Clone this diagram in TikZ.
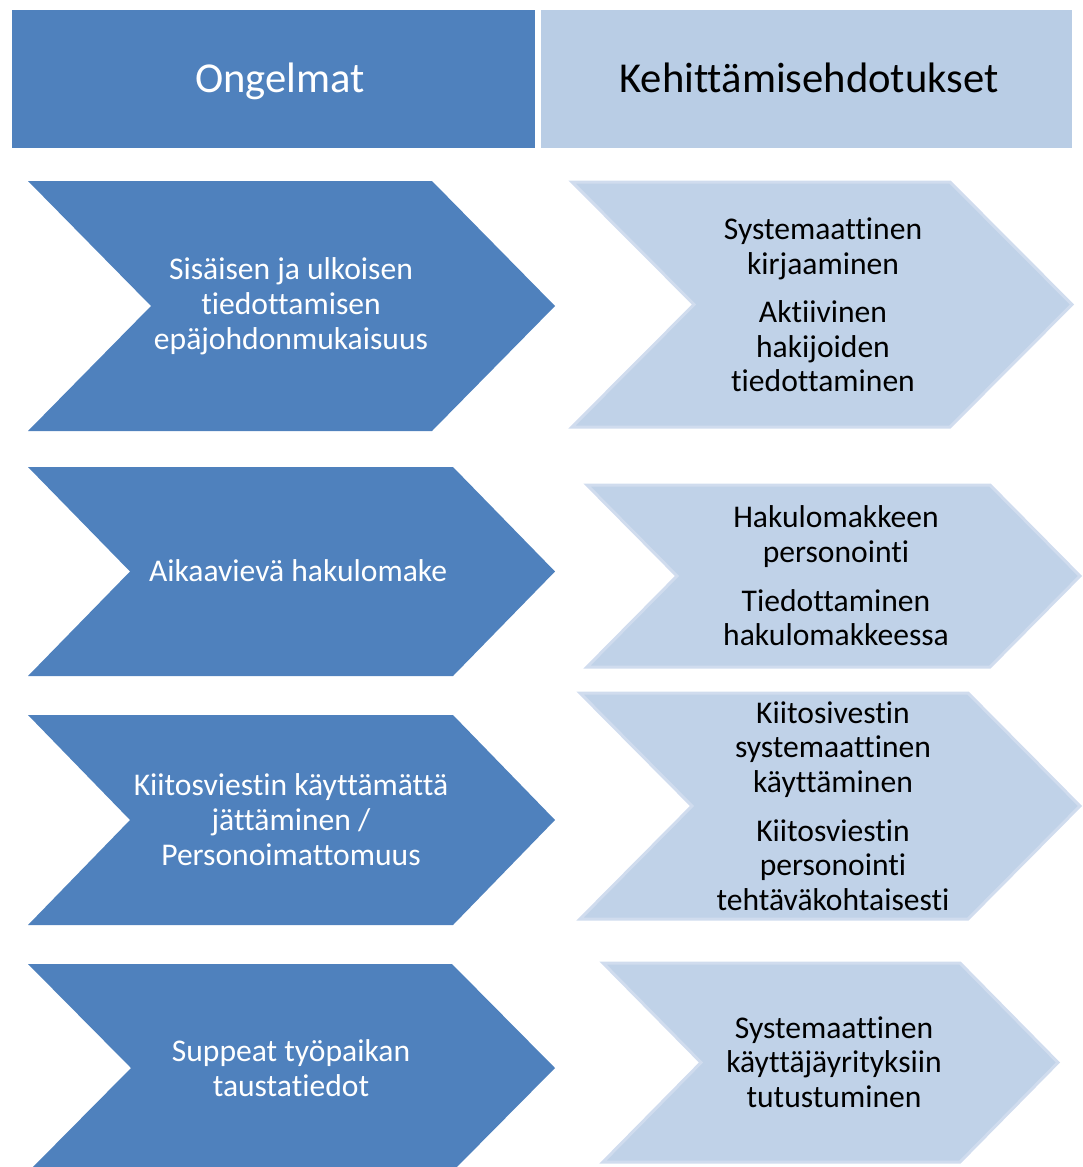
\documentclass[tikz,border=0pt]{standalone}
\usepackage{fontspec}
\setmainfont[Ligatures={NoCommon}]{Carlito}
\usetikzlibrary{positioning}

\definecolor{darkblue}{HTML}{4F81BD}
\definecolor{headlight}{HTML}{B9CDE5}
\definecolor{lightfill}{HTML}{C0D2E8}
\definecolor{lightedge}{HTML}{D0DCEE}

\tikzset{
  darkchev/.style={fill=darkblue},
  lightchev/.style={fill=lightfill, draw=lightedge, line width=1.5pt, line join=miter},
  headtext/.style={font=\fontsize{21.3}{24}\selectfont, anchor=base},
  darktext/.style={text=white, font=\fontsize{15.8}{17.5}\selectfont, align=center},
  lighttext/.style={text=black, font=\fontsize{15.8}{17.3}\selectfont, align=center}
}

% chevron: style, left x, top-right x, tip x, top y, bottom y
\newcommand{\chev}[6]{%
  \path[#1] (#2,#5) -- (#3,#5) -- (#4,{(#5+#6)/2}) -- (#3,#6) -- (#2,#6)
    -- ({#2+#4-#3},{(#5+#6)/2}) -- cycle;}

\begin{document}
\begin{tikzpicture}[x=0.5pt,y=-0.5pt]
  \clip (0,0) rectangle (1082,1167);

  % headers
  \fill[darkblue] (12,10) rectangle (535,148);
  \fill[headlight] (541,10) rectangle (1072,148);
  \node[headtext, text=white] (ongelmat) at (280,92) {Ongelmat};
  \node[headtext, text=black] (ehdotukset) at (809,92) {Kehittämisehdotukset};

  % problems
  \chev{darkchev}{28}{432}{555}{181}{431}
  \chev{darkchev}{28}{453}{555}{467}{676}
  \chev{darkchev}{28}{453}{555}{715}{925}
  \chev{darkchev}{28}{452}{555}{964}{1172}

  \node[darktext] (p1) at (291,306) {Sisäisen ja ulkoisen\\tiedottamisen\\epäjohdonmukaisuus};
  \node[darktext] (p2) at (298,571) {Aikaavievä hakulomake};
  \node[darktext] (p3) at (291,820) {Kiitosviestin käyttämättä\\jättäminen /\\Personoimattomuus};
  \node[darktext] (p4) at (291,1068) {Suppeat työpaikan\\taustatiedot};

  % suggestions
  \chev{lightchev}{572}{950}{1072}{182}{427}
  \chev{lightchev}{587}{990}{1080}{485}{667}
  \chev{lightchev}{580}{968}{1080}{693}{919}
  \chev{lightchev}{603}{960}{1058}{963}{1162}

  \node[lighttext] (s1) at (823,305) {Systemaattinen\\kirjaaminen\\[7pt]Aktiivinen\\hakijoiden\\tiedottaminen};
  \node[lighttext] (s2) at (836,576) {Hakulomakkeen\\personointi\\[7pt]Tiedottaminen\\hakulomakkeessa};
  \node[lighttext] (s3) at (833,806) {Kiitosivestin\\systemaattinen\\käyttäminen\\[7pt]Kiitosviestin\\personointi\\tehtäväkohtaisesti};
  \node[lighttext] (s4) at (834,1062) {Systemaattinen\\käyttäjäyrityksiin\\tutustuminen};
\end{tikzpicture}
\end{document}
